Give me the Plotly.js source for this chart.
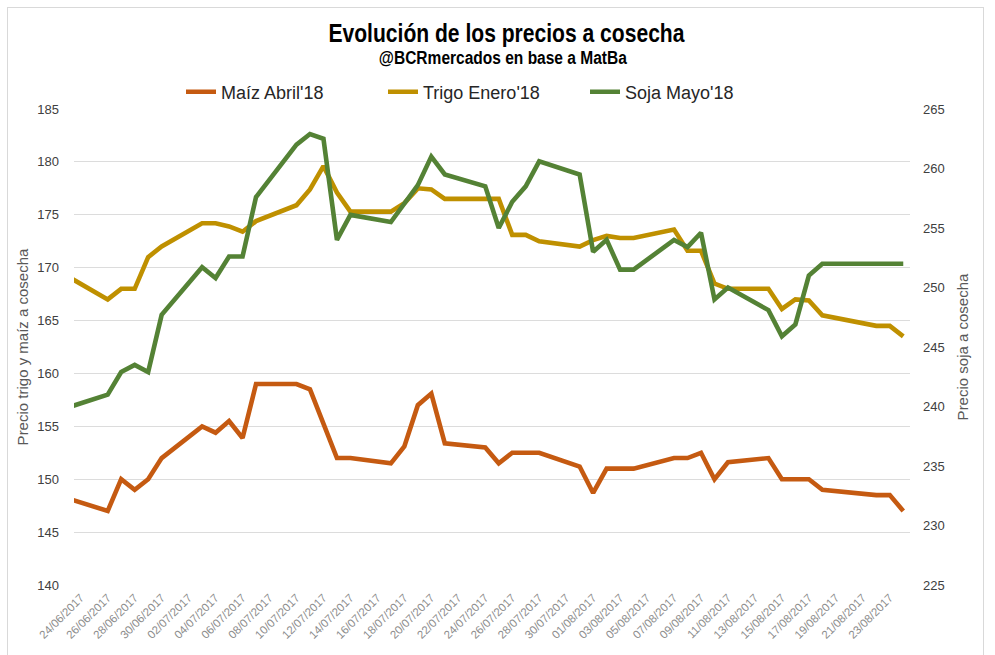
<!DOCTYPE html>
<html>
<head>
<meta charset="utf-8">
<script src="https://cdn.plot.ly/plotly-3.0.1.min.js"></script>
<style>
  html, body { margin: 0; padding: 0; background: #ffffff; overflow: hidden; }
  #wrap { position: relative; width: 995px; height: 655px; }
  #chart { position: absolute; left: 0; top: 0; width: 995px; height: 655px; }
  #frame { position: absolute; left: 7px; top: 7px; width: 977px; height: 670px;
           border: 1px solid #d9d9d9; pointer-events: none; box-sizing: border-box; }
</style>
</head>
<body>
<div id="wrap">
  <div id="chart"></div>
  <div id="frame"></div>
</div>
<script>
// ---- data ----
const dates = [
  '2017-06-23','2017-06-26','2017-06-27','2017-06-28','2017-06-29','2017-06-30',
  '2017-07-03','2017-07-04','2017-07-05','2017-07-06','2017-07-07',
  '2017-07-10','2017-07-11','2017-07-12','2017-07-13','2017-07-14',
  '2017-07-17','2017-07-18','2017-07-19','2017-07-20','2017-07-21',
  '2017-07-24','2017-07-25','2017-07-26','2017-07-27','2017-07-28',
  '2017-07-31','2017-08-01','2017-08-02','2017-08-03','2017-08-04',
  '2017-08-07','2017-08-08','2017-08-09','2017-08-10','2017-08-11',
  '2017-08-14','2017-08-15','2017-08-16','2017-08-17','2017-08-18',
  '2017-08-22','2017-08-23','2017-08-24'
];
const maiz = [
  148.2, 147, 150, 149, 150, 152,
  155, 154.4, 155.5, 153.9, 159,
  159, 158.5, 155.3, 152, 152,
  151.5, 153.1, 157, 158.1, 153.4,
  153, 151.5, 152.5, 152.5, 152.5,
  151.2, 148.7, 151, 151, 151,
  152, 152, 152.5, 150, 151.6,
  152, 150, 150, 150, 149,
  148.5, 148.5, 147
];
const trigo = [
  169.2, 167, 168, 168, 171, 172,
  174.2, 174.2, 173.9, 173.4, 174.4,
  175.9, 177.4, 179.6, 177.1, 175.3,
  175.3, 176.1, 177.5, 177.4, 176.5,
  176.5, 176.5, 173.1, 173.1, 172.5,
  172, 172.6, 173, 172.8, 172.8,
  173.6, 171.6, 171.6, 168.5, 168,
  168, 166.1, 167, 166.9, 165.5,
  164.5, 164.5, 163.5
];
const soja = [
  239.9, 241, 242.9, 243.5, 242.9, 247.7,
  251.7, 250.8, 252.6, 252.6, 257.6,
  262, 262.9, 262.5, 254, 256.1,
  255.5, 257.1, 258.6, 261, 259.5,
  258.5, 255, 257.2, 258.5, 260.6,
  259.5, 253, 254, 251.5, 251.5,
  254, 253.4, 254.6, 249, 250,
  248.1, 245.9, 246.9, 251, 252,
  252, 252, 252
];
const seriesNames = ["Maíz Abril'18", "Trigo Enero'18", "Soja Mayo'18"];
const tickDates = [
  '2017-06-24','2017-06-26','2017-06-28','2017-06-30',
  '2017-07-02','2017-07-04','2017-07-06','2017-07-08','2017-07-10','2017-07-12',
  '2017-07-14','2017-07-16','2017-07-18','2017-07-20','2017-07-22','2017-07-24',
  '2017-07-26','2017-07-28','2017-07-30',
  '2017-08-01','2017-08-03','2017-08-05','2017-08-07','2017-08-09','2017-08-11',
  '2017-08-13','2017-08-15','2017-08-17','2017-08-19','2017-08-21','2017-08-23'
];
const titleText = 'Evolución de los precios a cosecha';
const subtitleText = '@BCRmercados en base a MatBa';
const leftTitle = 'Precio trigo y maíz a cosecha';
const rightTitle = 'Precio soja a cosecha';

// ---- styles ----
const colors = ['#C55A11', '#BF9000', '#548235'];
const LW = 4.6;

const traces = [
  { x: dates, y: maiz,  name: seriesNames[0], type: 'scatter', mode: 'lines',
    line: { color: colors[0], width: LW }, yaxis: 'y' },
  { x: dates, y: trigo, name: seriesNames[1], type: 'scatter', mode: 'lines',
    line: { color: colors[1], width: LW }, yaxis: 'y' },
  { x: dates, y: soja,  name: seriesNames[2], type: 'scatter', mode: 'lines',
    line: { color: colors[2], width: LW }, yaxis: 'y2' }
];

const layout = {
  width: 995, height: 655,
  margin: { l: 74, r: 85, t: 109, b: 70, pad: 0 },
  paper_bgcolor: 'rgba(0,0,0,0)',
  plot_bgcolor: 'rgba(0,0,0,0)',
  font: { family: '"Liberation Sans", Arial, sans-serif', color: '#595959' },
  title: {
    text: titleText,
    font: { family: '"Liberation Sans", Arial, sans-serif', size: 25, weight: 'bold', color: '#000000' },
    x: 0.509, xanchor: 'center', xref: 'container',
    y: 1 - 33 / 655, yanchor: 'middle', yref: 'container'
  },
  annotations: [{
    text: subtitleText,
    xref: 'paper', yref: 'paper',
    x: (504 - 74) / 836, y: (585 - 58) / 476,
    xanchor: 'center', yanchor: 'middle', showarrow: false,
    font: { family: '"Liberation Sans", Arial, sans-serif', size: 18, weight: 'bold', color: '#000000' }
  }],
  showlegend: true,
  legend: {
    orientation: 'h',
    x: (181 - 74) / 836, xanchor: 'left',
    y: (585 - 92) / 476, yanchor: 'middle',
    font: { family: '"Liberation Sans", Arial, sans-serif', size: 18, color: '#262626' },
    bgcolor: 'rgba(0,0,0,0)',
    entrywidth: 157,
    traceorder: 'normal'
  },
  xaxis: {
    type: 'date',
    range: ['2017-06-23 12:00', '2017-08-24 12:00'],
    tickmode: 'array',
    tickvals: tickDates,
    tickformat: '%d/%m/%Y',
    tickangle: -45,
    tickfont: { size: 11.5, color: '#8c8c8c' },
    showgrid: false, zeroline: false, showline: false, ticks: '',
    ticklabelstandoff: 3,
    fixedrange: true
  },
  yaxis: {
    range: [140, 185],
    tick0: 140, dtick: 5,
    showgrid: true, gridcolor: '#dcdcdc', gridwidth: 1,
    zeroline: false, showline: false, ticks: '',
    tickfont: { size: 13, color: '#404040' },
    ticklabelstandoff: 14,
    title: { text: leftTitle, font: { size: 15, color: '#595959' }, standoff: 5 },
    fixedrange: true
  },
  yaxis2: {
    range: [225, 265],
    tick0: 225, dtick: 5,
    overlaying: 'y', side: 'right',
    showgrid: false, zeroline: false, showline: false, ticks: '',
    tickfont: { size: 13, color: '#404040' },
    ticklabelstandoff: 12,
    title: { text: rightTitle, font: { size: 15, color: '#595959' }, standoff: 13 },
    fixedrange: true
  }
};

function condense() {
  // Squeeze the bold title and subtitle horizontally, like the narrow bold font in the reference.
  const t = document.querySelector('#chart .gtitle');
  if (t) { t.setAttribute('textLength', '356'); t.setAttribute('lengthAdjust', 'spacingAndGlyphs'); }
  const a = document.querySelector('#chart .annotation-text');
  if (a) { a.setAttribute('textLength', '248'); a.setAttribute('lengthAdjust', 'spacingAndGlyphs'); }
}

Plotly.newPlot('chart', traces, layout, { displayModeBar: false, staticPlot: true }).then(condense);
</script>
</body>
</html>
